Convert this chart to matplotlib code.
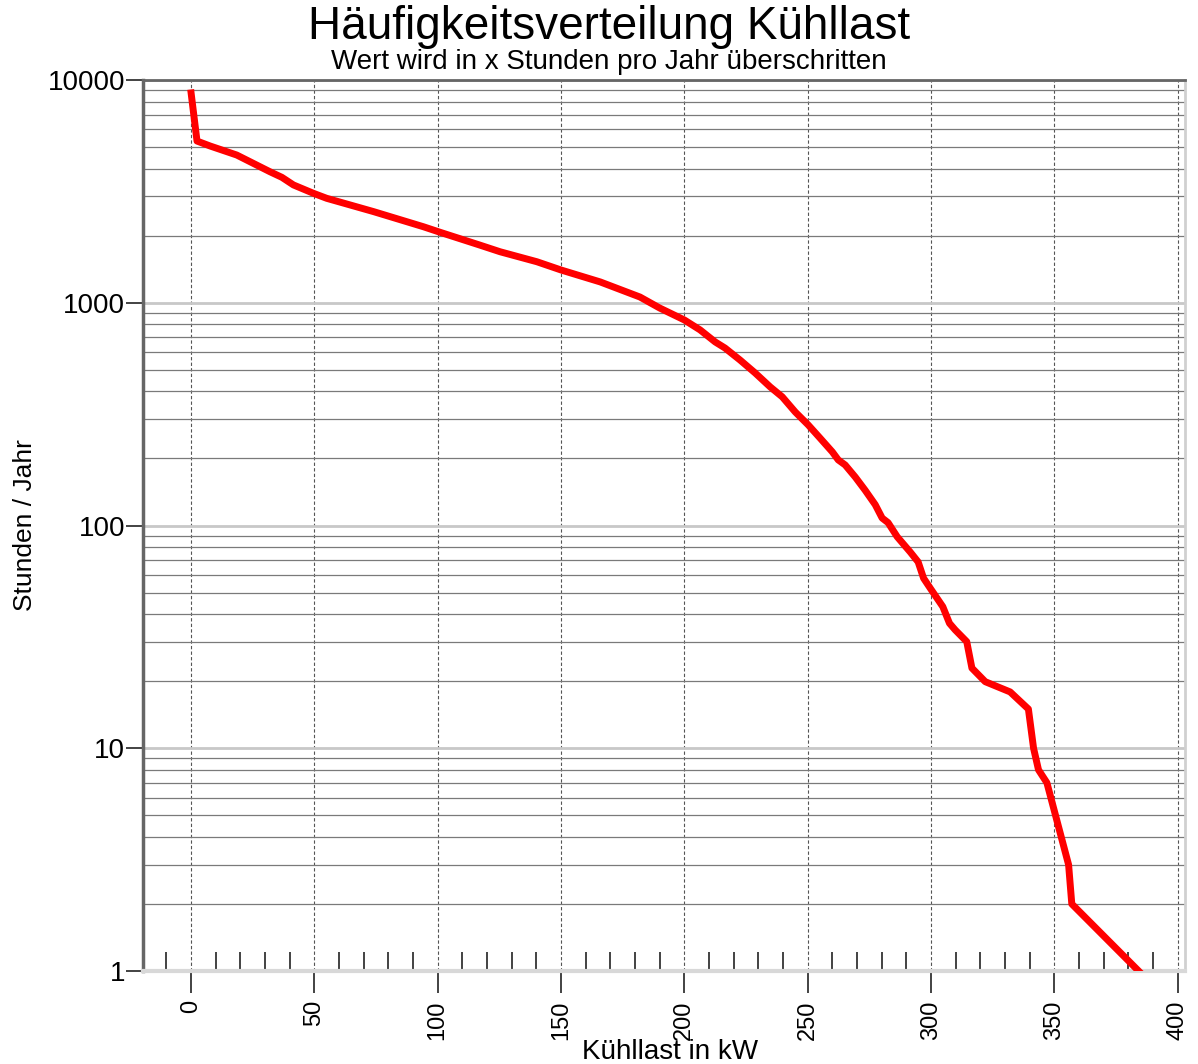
import matplotlib
matplotlib.use("Agg")
import matplotlib.pyplot as plt
from matplotlib.ticker import FixedLocator, LogLocator, NullFormatter
import numpy as np

plt.rcParams.update({"font.family": ["Liberation Sans", "DejaVu Sans"]})

# Kühllast (kW) vs. Stunden/Jahr
load_kw = [0, 2.4, 7.7, 18.5, 32, 36.8, 41.5, 49.6, 55, 74, 94.2, 101, 117, 125.3,
           140.2, 150, 165.9, 182, 190, 200, 206.4, 212.5, 216.5, 222.6, 228.7,
           234.8, 239.7, 245, 250.2, 255, 260, 262.4, 265.2, 269.3, 273.3, 277.4,
           280.2, 282.6, 286.3, 291.6, 294.8, 297, 299.7, 304.8, 307.5, 309.8,
           314.5, 316.6, 322, 332.1, 339.5, 341.6, 343.6, 347, 355.8, 357.1, 384.2]
hours = [8750, 5320, 5055, 4605, 3873, 3657, 3380, 3100, 2943, 2565, 2194, 2071,
         1816, 1694, 1528, 1403, 1240, 1061, 947, 837, 755, 667, 626, 553, 484,
         419, 378, 323, 283, 247, 214, 197, 187, 165, 144, 124, 108, 103, 89, 76,
         68.6, 58, 52.3, 43.2, 36.4, 34, 30.1, 22.9, 19.9, 17.9, 15, 10, 8, 7, 3,
         2, 1]

x_major = [0, 50, 100, 150, 200, 250, 300, 350, 400]
x_minor = [v for v in range(-10, 400, 10) if v % 50 != 0]
y_major = [1, 10, 100, 1000, 10000]
y_labels = ["1", "10", "100", "1000", "10000"]

fig = plt.figure(figsize=(11.98, 10.64), dpi=100)
ax = fig.add_axes([143 / 1198, 1 - 971 / 1064, (1185 - 143) / 1198, (971 - 80) / 1064])

ax.plot(load_kw, hours, color="#ff0000", lw=5, solid_joinstyle="round", zorder=5)

ax.set_yscale("log")
ax.set_xlim(-19.5, 403)
ax.set_ylim(1, 10000)

ax.xaxis.set_major_locator(FixedLocator(x_major))
ax.xaxis.set_minor_locator(FixedLocator(x_minor))
ax.set_xticklabels([str(v) for v in x_major], rotation=90, fontsize=17)
ax.yaxis.set_major_locator(FixedLocator(y_major))
ax.set_yticklabels(y_labels, fontsize=20)
ax.yaxis.set_minor_locator(LogLocator(base=10, subs=np.arange(2, 10)))
ax.yaxis.set_minor_formatter(NullFormatter())

ax.tick_params(axis="x", which="major", direction="out", length=16, width=1.2,
               color="#222222", pad=5)
ax.tick_params(axis="x", which="minor", direction="in", length=14, width=1.2,
               color="#222222", bottom=True)
ax.tick_params(axis="y", which="major", direction="out", length=12, width=1.2,
               color="#222222", pad=1)
ax.tick_params(axis="y", which="minor", length=0)

# grid
ax.grid(True, axis="x", which="major", color="#555555", lw=0.8, ls=(0, (3, 2)))
ax.grid(True, axis="y", which="major", color="#c8c8c8", lw=2)
ax.grid(True, axis="y", which="minor", color="#7a7a7a", lw=0.9)

ax.spines["left"].set_color("#666666")
ax.spines["left"].set_linewidth(2.5)
ax.spines["top"].set_color("#666666")
ax.spines["top"].set_linewidth(2)
ax.spines["right"].set_color("#d0d0d0")
ax.spines["right"].set_linewidth(2)
ax.spines["bottom"].set_color("#d8d8d8")
ax.spines["bottom"].set_linewidth(3)

fig.text(609 / 1198, 1 - 27 / 1064, "Häufigkeitsverteilung Kühllast",
         ha="center", va="center", fontsize=33)
fig.text(609 / 1198, 1 - 62 / 1064, "Wert wird in x Stunden pro Jahr überschritten",
         ha="center", va="center", fontsize=20)
fig.text(670 / 1198, 1 - 1059 / 1064, "Kühllast in kW", ha="center", va="baseline",
         fontsize=20)
fig.text(25 / 1198, 1 - 525 / 1064, "Stunden / Jahr", ha="center", va="center",
         rotation=90, fontsize=19)

fig.savefig("out.png", dpi=100)
